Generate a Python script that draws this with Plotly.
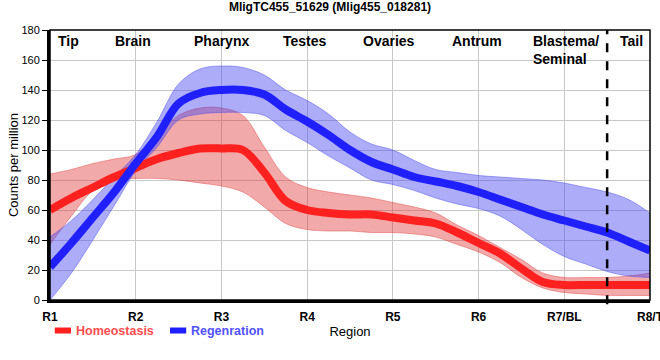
import plotly.graph_objects as go

# positions along the body (R1=1 ... R8=8), quarter steps
pos = [1 + 0.25 * i for i in range(29)]

homeo_mean = [60, 68, 75, 82, 88, 94, 98, 101, 101, 100, 85, 66, 60, 58, 57, 57, 55, 53, 51, 45, 38, 31, 21, 12, 10, 10, 10, 10, 10]
homeo_upper = [84, 87, 91, 94, 97, 110, 123, 128, 128, 123, 102, 82, 75, 72, 70, 68, 65, 62, 58, 50, 43, 35, 27, 18, 15, 15, 15, 16, 18]
homeo_lower = [37, 56, 73, 80, 81, 81, 80, 78, 76, 72, 62, 51, 47, 46, 46, 45, 45, 44, 42, 37, 32, 25, 15, 8, 5, 4, 3, 3, 3]

regen_mean = [22, 38, 55, 72, 91, 109, 131, 138, 140, 140, 137, 127, 119, 110, 100, 92, 87, 82, 79, 76, 72, 67, 62, 57, 53, 49, 45, 39, 33]
regen_upper = [42, 53, 67, 82, 97, 119, 144, 154, 156, 155, 150, 140, 133, 124, 112, 104, 100, 93, 87, 85, 83, 82, 81, 80, 78, 75, 72, 67, 58]
regen_lower = [0, 18, 40, 63, 86, 102, 120, 124, 125, 125, 123, 113, 105, 96, 88, 80, 77, 73, 68, 64, 61, 56, 47, 37, 29, 24, 19, 16, 15]

series_names = ["Homeostasis", "Regenration"]

tick_vals = [1, 2, 3, 4, 5, 6, 7, 8]
tick_labels = ["R1", "R2", "R3", "R4", "R5", "R6", "R7/BL", "R8/T"]

region_names = ["Tip", "Brain", "Pharynx", "Testes", "Ovaries", "Antrum", "Blastema/<br>Seminal", "Tail"]
region_pos = [1.22, 1.97, 3.0, 3.97, 4.95, 5.98, 7.02, 7.78]
divider_pos = 7.5

FONT = "Liberation Sans, Arial, sans-serif"
RED = "#ff2020"
BLUE = "#2020ff"
RED_TEXT = "#ff4d4d"
BLUE_TEXT = "#5252ff"
RED_FILL = "rgba(225,50,50,0.42)"
BLUE_FILL = "rgba(70,70,240,0.45)"

fig = go.Figure()

def band(x, lo, hi, fill):
    fig.add_trace(go.Scatter(x=x, y=hi, mode="lines", line=dict(color=fill, width=1, shape="spline"),
                             showlegend=False, hoverinfo="skip"))
    fig.add_trace(go.Scatter(x=x, y=lo, mode="lines", line=dict(color=fill, width=1, shape="spline"),
                             fill="tonexty", fillcolor=fill, showlegend=False, hoverinfo="skip"))

band(pos, homeo_lower, homeo_upper, RED_FILL)
band(pos, regen_lower, regen_upper, BLUE_FILL)

fig.add_trace(go.Scatter(x=pos, y=homeo_mean, mode="lines", line=dict(color=RED, width=8, shape="spline"),
                         name=series_names[0], showlegend=False))
fig.add_trace(go.Scatter(x=pos, y=regen_mean, mode="lines", line=dict(color=BLUE, width=8, shape="spline"),
                         name=series_names[1], showlegend=False))

# region labels along the top
for name, p in zip(region_names, region_pos):
    fig.add_annotation(x=p, y=1, xref="x", yref="paper", text="<b>" + name + "</b>", showarrow=False,
                       yanchor="top", yshift=-1, font=dict(family=FONT, size=14, color="black"),
                       align="left")

fig.add_shape(type="line", x0=divider_pos, x1=divider_pos, y0=-0.016, y1=1, xref="x", yref="paper",
              line=dict(color="black", width=2.5, dash="dash"))
fig.add_shape(type="rect", x0=0, x1=1, y0=0, y1=1, xref="paper", yref="paper",
              line=dict(color="black", width=1.5), layer="above")

# custom legend (short thick keys + coloured text)
leg_y = -0.113
for (k0, k1, tx), col, tcol, nm in zip([(0.008, 0.035, 0.040), (0.200, 0.227, 0.232)],
                                       [RED, BLUE], [RED_TEXT, BLUE_TEXT], series_names):
    fig.add_shape(type="line", x0=k0, x1=k1, y0=leg_y, y1=leg_y, xref="paper", yref="paper",
                  line=dict(color=col, width=6))
    fig.add_annotation(x=tx, y=leg_y, xref="paper", yref="paper", text="<b>" + nm + "</b>",
                       showarrow=False, xanchor="left", yanchor="middle",
                       font=dict(family=FONT, size=12.5, color=tcol))

fig.update_layout(
    width=660, height=360,
    margin=dict(l=50, r=10, t=30, b=60),
    paper_bgcolor="white", plot_bgcolor="white",
    font=dict(family=FONT, size=12, color="black"),
    title=dict(text="<b>MligTC455_51629 (Mlig455_018281)</b>", x=0.5, xanchor="center",
               y=1.0, yanchor="top", pad=dict(t=3), font=dict(size=12, family=FONT)),
    showlegend=False,
    xaxis=dict(range=[1, 8], tickvals=tick_vals, ticktext=["<b>" + t + "</b>" for t in tick_labels],
               showgrid=True, gridcolor="#c8c8c8", gridwidth=1,
               showline=True, linecolor="black", linewidth=3, ticks="", ticklabelstandoff=4,
               zeroline=False, ticklabeloverflow="allow",
               tickfont=dict(size=12, family=FONT),
               title=dict(text="Region", font=dict(size=13, family=FONT), standoff=4),
               automargin=False),
    yaxis=dict(range=[0, 180], dtick=20, showgrid=True, gridcolor="#c8c8c8", gridwidth=1,
               showline=True, linecolor="black", linewidth=3, ticks="outside", ticklen=5,
               tickcolor="black", zeroline=False, tickfont=dict(size=11, family=FONT),
               title=dict(text="Counts per million", font=dict(size=13, family=FONT), standoff=0),
               automargin=False),
)

# let the 660x360 figure fill the page exactly (no default body margin), no mode bar
fig.write_html("out.html", config={"displayModeBar": False},
               post_script="document.body.style.margin='0';")
